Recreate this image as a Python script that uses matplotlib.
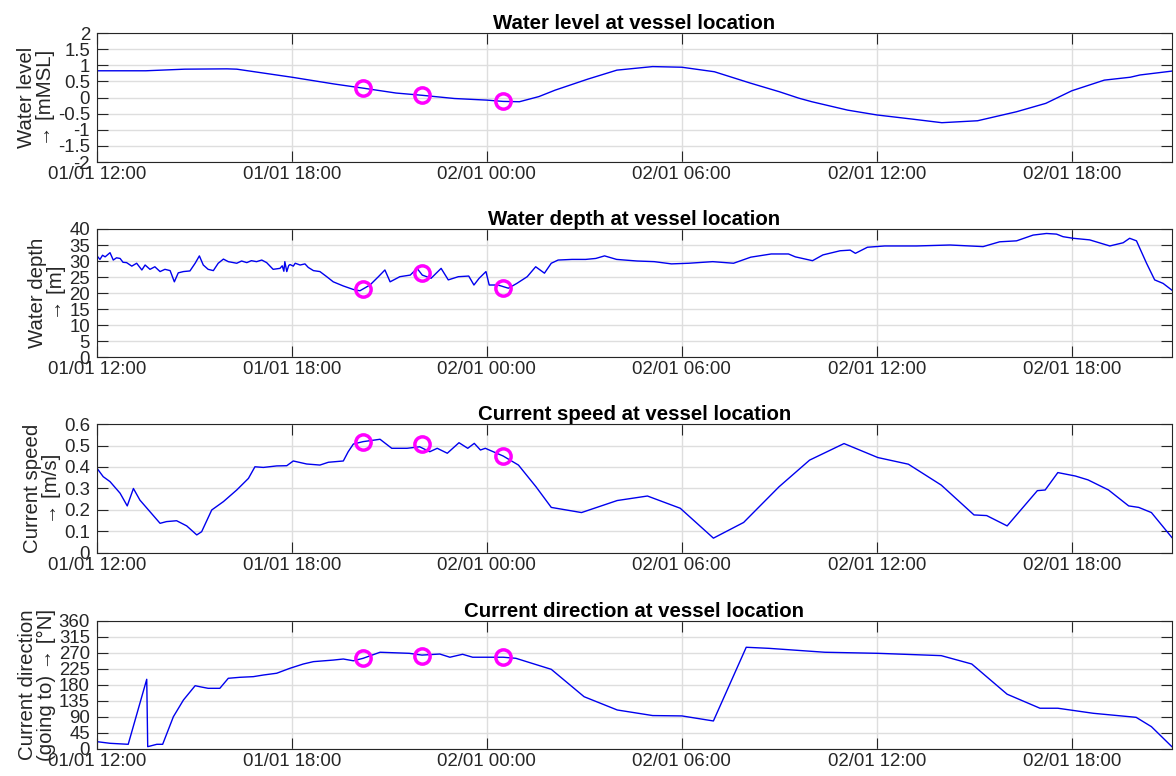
import numpy as np
import pandas as pd
import matplotlib
matplotlib.use("Agg")
import matplotlib.pyplot as plt
import matplotlib.dates as mdates

plt.rcParams['font.family'] = ['Liberation Sans', 'DejaVu Sans']
plt.rcParams['axes.unicode_minus'] = False

t0 = pd.Timestamp("2021-01-01 12:00")

# hours after 01/01 12:00 and values
wl_h = [0, 1.5, 2.7, 4.0, 4.3, 6.0, 7.3, 8.2, 9.2, 10.0, 11.0, 12.0, 12.5, 13.0, 13.6, 14.1,
        15.1, 16.0, 17.1, 18.0, 19.0, 20.1, 21.0, 21.6, 22.0, 23.1, 24.0, 25.1, 26.0, 27.1,
        28.3, 29.2, 30.0, 31.0, 31.8, 32.1, 33.08]
wl_v = [0.83, 0.83, 0.88, 0.89, 0.88, 0.63, 0.42, 0.29, 0.14, 0.07, -0.03, -0.08, -0.12, -0.13,
        0.03, 0.23, 0.57, 0.85, 0.96, 0.94, 0.8, 0.45, 0.18, -0.02, -0.13, -0.39, -0.54, -0.67,
        -0.78, -0.72, -0.44, -0.18, 0.21, 0.54, 0.63, 0.7, 0.82]

wd_h = [0, 0.09, 0.17, 0.25, 0.4, 0.5, 0.6, 0.71, 0.8, 0.91, 1.07, 1.22, 1.38, 1.48, 1.63,
        1.78, 1.94, 2.09, 2.25, 2.38, 2.5, 2.66, 2.86, 3.02, 3.15, 3.27, 3.42, 3.58, 3.73,
        3.89, 4.04, 4.3, 4.45, 4.61, 4.75, 4.91, 5.07, 5.22, 5.42, 5.63, 5.7, 5.75, 5.78, 5.84,
        5.9, 5.94, 6.04, 6.1, 6.25, 6.4, 6.5, 6.66, 6.86, 7.07, 7.27, 7.58, 7.89, 8.09, 8.4,
        8.66, 8.86, 9.02, 9.32, 9.64, 9.85, 10.01, 10.28, 10.59, 10.81, 11.12, 11.44, 11.6,
        11.76, 11.97, 12.07, 12.34, 12.66, 12.92, 13.24, 13.5, 13.77, 13.98, 14.19, 14.62,
        15.04, 15.35, 15.62, 15.99, 16.62, 17.15, 17.68, 18.21, 18.95, 19.59, 20.12, 20.75,
        21.28, 21.49, 22.02, 22.34, 22.87, 23.18, 23.34, 23.71, 24.24, 24.71, 25.22, 26.25,
        27.27, 27.78, 28.3, 28.81, 29.22, 29.53, 29.73, 30.04, 30.55, 31.17, 31.58, 31.78,
        31.99, 32.3, 32.55, 32.81, 33.08]
wd_v = [31.6, 30.5, 31.8, 31.3, 32.6, 30.3, 31.0, 30.8, 29.6, 29.5, 28.4, 29.3, 27.2, 28.75,
        27.4, 28.2, 26.7, 27.4, 27.0, 23.5, 26.3, 26.7, 26.9, 29.3, 31.6, 28.75, 27.4, 27.0,
        29.3, 30.6, 29.8, 29.3, 30.0, 29.5, 30.1, 29.8, 30.3, 29.5, 27.4, 27.7, 28.5, 26.8,
        29.8, 26.7, 28.6, 28.9, 28.4, 29.3, 28.75, 29.1, 28.0, 27.0, 26.7, 25.1, 23.5, 22.2,
        21.1, 20.7, 22.5, 25.1, 27.2, 23.5, 25.1, 25.6, 27.7, 25.6, 24.6, 27.7, 24.1, 25.1,
        25.3, 22.5, 24.6, 26.7, 22.5, 22.5, 21.5, 23.0, 25.1, 28.2, 26.2, 29.3, 30.3, 30.5,
        30.5, 30.8, 31.6, 30.5, 30.0, 29.8, 29.1, 29.3, 29.8, 29.3, 31.2, 32.2, 32.2, 31.3,
        30.1, 31.9, 33.2, 33.4, 32.4, 34.3, 34.7, 34.7, 34.7, 35.0, 34.5, 36.0, 36.3, 38.1,
        38.6, 38.4, 37.6, 37.1, 36.6, 34.7, 35.7, 37.1, 36.3, 29.3, 24.1, 23.0, 20.9]

cs_h = [0, 0.19, 0.4, 0.71, 0.93, 1.12, 1.32, 1.63, 1.94, 2.14, 2.45, 2.76, 3.07, 3.22, 3.53,
        3.89, 4.3, 4.66, 4.86, 5.12, 5.53, 5.84, 6.04, 6.45, 6.86, 7.12, 7.58, 7.73, 7.89, 8.19,
        8.71, 9.07, 9.54, 9.93, 10.24, 10.47, 10.78, 11.14, 11.41, 11.61, 11.8, 11.95, 12.5,
        12.97, 13.51, 13.98, 14.91, 16.01, 16.94, 17.95, 18.97, 19.9, 20.99, 21.93, 22.99,
        24.03, 24.97, 25.98, 26.99, 27.38, 28.01, 28.94, 29.18, 29.57, 30.11, 30.5, 31.13,
        31.75, 32.06, 32.45, 33.08]
cs_v = [0.394, 0.355, 0.332, 0.278, 0.219, 0.30, 0.246, 0.192, 0.138, 0.146, 0.15, 0.126,
        0.084, 0.099, 0.2, 0.239, 0.293, 0.347, 0.401, 0.398, 0.405, 0.406, 0.428, 0.414,
        0.409, 0.422, 0.428, 0.471, 0.507, 0.518, 0.529, 0.487, 0.487, 0.494, 0.471, 0.487,
        0.464, 0.513, 0.487, 0.51, 0.479, 0.487, 0.451, 0.409, 0.308, 0.212, 0.188, 0.244,
        0.265, 0.208, 0.069, 0.142, 0.308, 0.432, 0.509, 0.444, 0.413, 0.316, 0.177, 0.174,
        0.126, 0.29, 0.293, 0.374, 0.358, 0.34, 0.293, 0.219, 0.212, 0.188, 0.072]

cd_h = [0, 0.4, 0.96, 1.53, 1.56, 1.84, 2.02, 2.35, 2.66, 3.02, 3.17, 3.42, 3.78, 4.04, 4.4,
        4.81, 5.12, 5.53, 5.94, 6.35, 6.66, 7.27, 7.58, 7.89, 8.19, 8.71, 9.61, 10.0, 10.55,
        10.86, 11.25, 11.56, 12.5, 12.89, 13.98, 14.99, 16.01, 17.1, 18.0, 18.97, 19.98, 20.68,
        22.4, 24.03, 25.98, 26.92, 28.01, 29.02, 29.57, 30.66, 31.75, 31.98, 32.45, 33.08]
cd_v = [20.6, 16, 13.2, 196, 6.5, 13.2, 13.2, 90.8, 137.8, 178, 175, 170.6, 170.6, 198.8,
        201.6, 203.4, 208, 213, 227, 239, 245.6, 250, 253, 248, 255, 272, 269, 264, 267, 258,
        266.3, 258, 258, 255, 224, 147, 109.7, 94, 93, 78.8, 286, 283, 272, 269, 262.5, 239,
        154, 114.6, 114.6, 100.4, 91, 89, 62.8, 6.5]

# highlighted moments
mk_h = [8.2, 10.0, 12.5]
mk_wl = [0.29, 0.07, -0.12]
mk_wd = [21.1, 26.4, 21.5]
mk_cs = [0.518, 0.505, 0.451]
mk_cd = [255, 262, 258]

titles = ["Water level at vessel location", "Water depth at vessel location",
          "Current speed at vessel location", "Current direction at vessel location"]
ylabels = ["Water level\n\u2192 [mMSL]", "Water depth\n\u2192 [m]",
           "Current speed\n\u2192 [m/s]", "Current direction\n(going to) \u2192 [\u00b0N]"]
yticks = [np.arange(-2, 2.01, 0.5), np.arange(0, 41, 5), np.arange(0, 0.61, 0.1),
          np.arange(0, 361, 45)]
ytick_labels = [["-2", "-1.5", "-1", "-0.5", "0", "0.5", "1", "1.5", "2"],
                [str(v) for v in range(0, 41, 5)],
                ["0", "0.1", "0.2", "0.3", "0.4", "0.5", "0.6"],
                [str(v) for v in range(0, 361, 45)]]
ylims = [(-2, 2), (0, 40), (0, 0.6), (0, 360)]

series = [(wl_h, wl_v, mk_wl), (wd_h, wd_v, mk_wd), (cs_h, cs_v, mk_cs), (cd_h, cd_v, mk_cd)]


def to_time(hours):
    return t0 + pd.to_timedelta(np.array(hours), unit="h")


fig = plt.figure(figsize=(11.76, 7.76), dpi=100)
bottoms = [0.7912, 0.5399, 0.2874, 0.0348]
heights = [0.1662, 0.165, 0.1662, 0.165]
dark = "#262626"

for i in range(4):
    ax = fig.add_axes([0.0825, bottoms[i], 0.914, heights[i]])
    h, v, mk = series[i]
    ax.plot(to_time(h), v, color="#0000ee", lw=1.0)
    ax.plot(to_time(mk_h), mk, linestyle="none", marker="o", markersize=11,
            markerfacecolor="none", markeredgecolor="#ff00ff", markeredgewidth=2.5)
    ax.set_xlim(t0, t0 + pd.Timedelta(hours=33.08))
    ax.set_ylim(*ylims[i])
    ax.set_yticks(yticks[i])
    ax.set_yticklabels(ytick_labels[i])
    ax.xaxis.set_major_locator(mdates.HourLocator(byhour=[0, 6, 12, 18]))
    ax.xaxis.set_major_formatter(mdates.DateFormatter("%d/%m %H:%M"))
    ax.tick_params(direction="in", length=8, width=0.8, colors=dark, labelsize=13.4,
                   top=True, right=True, pad=3)
    ax.tick_params(axis="y", pad=5)
    ax.grid(True, color="#dedede", lw=1.0)
    ax.set_axisbelow(True)
    for sp in ax.spines.values():
        sp.set_color(dark)
        sp.set_linewidth(0.8)
    ax.set_title(titles[i], fontsize=14.7, fontweight="bold", pad=3)
    ax.set_ylabel(ylabels[i], fontsize=14.7, color=dark, labelpad=2, linespacing=1.0)

fig.savefig("out.png", dpi=100)
